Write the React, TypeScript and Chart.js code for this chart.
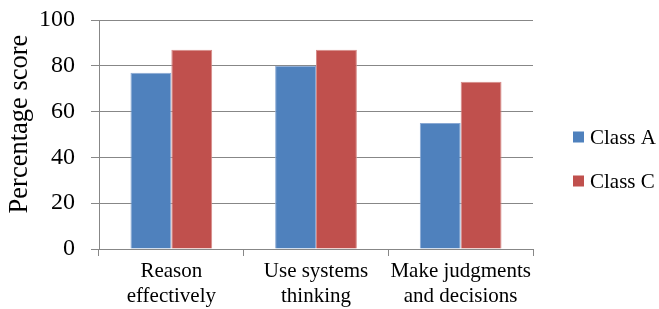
import React, { useEffect, useRef } from "react";
import { Chart, registerables } from "chart.js";

Chart.register(...registerables);

const categories: string[][] = [
  ["Reason", "effectively"],
  ["Use systems", "thinking"],
  ["Make judgments", "and decisions"],
];
const classA: number[] = [77, 80, 55];
const classC: number[] = [87, 87, 73];
const seriesNames: string[] = ["Class A", "Class C"];
const yTicks: number[] = [0, 20, 40, 60, 80, 100];
const yTitle = "Percentage score";

const FONT = "'Liberation Serif', 'Times New Roman', serif";
const GRID = "#878787";

const legendPlugin = {
  id: "customLegend",
  afterDraw(chart: any) {
    const ctx = chart.ctx;
    const area = chart.chartArea;
    const mid = chart.height / 2;
    const offsets = [-17.5, 26.5];
    ctx.save();
    ctx.font = `21px ${FONT}`;
    ctx.textBaseline = "middle";
    ctx.textAlign = "left";
    chart.data.datasets.forEach((ds: any, i: number) => {
      const cy = mid + offsets[i];
      const bx = area.right + 40;
      ctx.fillStyle = ds.backgroundColor;
      ctx.fillRect(bx, cy - 5.5, 11, 11);
      ctx.fillStyle = "#000";
      ctx.fillText(ds.label, bx + 17, cy + 1);
    });
    // y-axis title, centred like the original
    ctx.save();
    ctx.translate(20, chart.height / 2 - 30.5);
    ctx.rotate(-Math.PI / 2);
    ctx.textAlign = "center";
    ctx.textBaseline = "middle";
    ctx.font = `26.5px ${FONT}`;
    ctx.fillStyle = "#000";
    ctx.fillText(yTitle, 0, 0);
    ctx.restore();
    ctx.restore();
  },
};

export default function App() {
  const ref = useRef<HTMLCanvasElement>(null);
  useEffect(() => {
    if (!ref.current) return;
    const chart = new Chart(ref.current, {
      type: "bar",
      data: {
        labels: categories,
        datasets: [
          {
            label: seriesNames[0],
            data: classA,
            backgroundColor: "#4F81BD",
            borderColor: "#8aa9d4",
            borderWidth: 1,
            categoryPercentage: 0.565,
            barPercentage: 1,
          },
          {
            label: seriesNames[1],
            data: classC,
            backgroundColor: "#C0504D",
            borderColor: "#d68a88",
            borderWidth: 1,
            categoryPercentage: 0.565,
            barPercentage: 1,
          },
        ],
      },
      options: {
        responsive: false,
        animation: false,
        layout: { padding: { top: 20, right: 126, left: 0, bottom: 0 } },
        plugins: { legend: { display: false }, tooltip: { enabled: false } },
        scales: {
          x: {
            grid: {
              display: true,
              drawOnChartArea: false,
              drawTicks: true,
              tickLength: 7,
              color: GRID,
              offset: true,
            },
            border: { color: GRID, width: 1 },
            ticks: {
              color: "#000",
              font: { family: FONT, size: 21, lineHeight: 1.2 },
              padding: 3,
              maxRotation: 0,
              autoSkip: false,
            },
            afterFit(scale: any) {
              scale.height = 60;
              scale.paddingLeft = 0;
              scale.paddingRight = 0;
            },
          },
          y: {
            min: 0,
            max: 100,
            afterBuildTicks(scale: any) {
              scale.ticks = yTicks.map((v) => ({ value: v }));
            },
            grid: { color: GRID, tickLength: 8, lineWidth: 1 },
            border: { color: GRID, width: 1 },
            ticks: {
              color: "#000",
              font: { family: FONT, size: 24 },
              padding: 16,
            },
            title: { display: false, text: yTitle },
            afterFit(scale: any) {
              scale.width = 99;
              scale.paddingTop = 0;
              scale.paddingBottom = 0;
            },
          },
        },
      },
      plugins: [legendPlugin],
    });
    return () => chart.destroy();
  }, []);
  return (
    <div style={{ position: "fixed", left: 0, top: 0, width: 659, height: 309, background: "#fff" }}>
      <canvas ref={ref} width={659} height={309} style={{ display: "block" }} />
    </div>
  );
}
